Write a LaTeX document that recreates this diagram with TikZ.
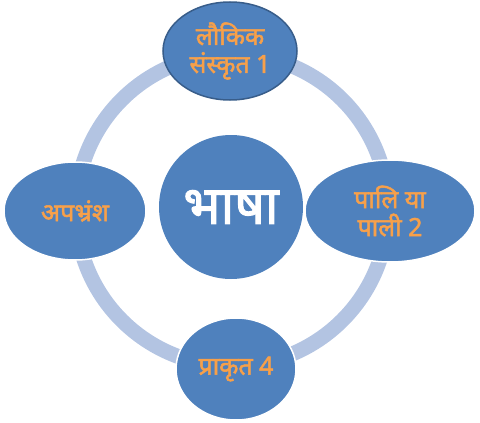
\documentclass[tikz,border=0pt]{standalone}
\usepackage{fontspec}
\newfontfamily\hindi[Script=Devanagari, FakeBold=2]{Noto Sans}
\usetikzlibrary{shapes.geometric}
\definecolor{stageblue}{RGB}{79, 129, 189}
\definecolor{stageedge}{RGB}{56, 93, 138}
\definecolor{ringgray}{RGB}{179, 196, 226}
\definecolor{labelorange}{RGB}{247, 160, 74}

\tikzset{
  stage/.style={ellipse, fill=stageblue, draw=white, line width=1.5pt,
                inner sep=0pt, align=center, text=labelorange,
                font=\hindi\fontsize{25}{28}\selectfont},
}

\begin{document}
\begin{tikzpicture}[x=1pt, y=-1pt]
  \useasboundingbox (0,0) rectangle (480,423);

  % Cycle ring
  \draw[ringgray, line width=15pt] (232,210) circle (156);

  % Centre
  \node[circle, fill=stageblue, inner sep=0pt, minimum size=144pt,
        text=white, font=\hindi\fontsize{53}{56}\selectfont]
    (bhasha) at (231,207) {भाषा};

  % Stages
  \node[stage, draw=stageedge, minimum width=134pt, minimum height=98pt]
    (laukik) at (230,51) {लौकिक\\संस्कृत 1};
  \node[stage, minimum width=170pt, minimum height=102pt]
    (pali) at (390,211) {पालि या\\पाली 2};
  \node[stage, minimum width=120pt, minimum height=102pt]
    (prakrit) at (236,369) {प्राकृत 4};
  \node[stage, minimum width=142pt, minimum height=98pt]
    (apbhransh) at (75,211) {अपभ्रंश};
\end{tikzpicture}
\end{document}
